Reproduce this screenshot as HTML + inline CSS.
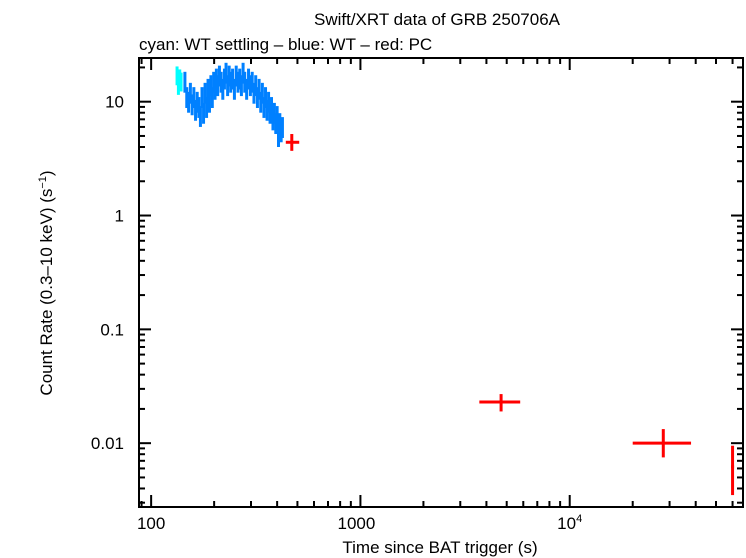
<!DOCTYPE html>
<html><head><meta charset="utf-8"><style>
body{margin:0;background:#fff}
svg{display:block;font-family:"Liberation Sans",sans-serif}
</style></head><body>
<svg id="chart" width="746" height="558" viewBox="0 0 746 558">
<text x="437" y="25" font-size="17" text-anchor="middle">Swift/XRT data of GRB 250706A</text>
<text x="139" y="50" font-size="17">cyan: WT settling – blue: WT – red: PC</text>
<text x="440" y="553" font-size="17" text-anchor="middle">Time since BAT trigger (s)</text>
<text transform="translate(52,283) rotate(-90)" font-size="17" text-anchor="middle">Count Rate (0.3–10 keV) (s<tspan font-size="11" dy="-6">−1</tspan><tspan dy="6">)</tspan></text>
<g id="marks"></g>
<g id="axes"></g>
</svg>
<script>
const xTickVals=[100,1000,10000];
const xTickLabels=["100","1000","10^4"];
const yTickVals=[10,1,0.1,0.01];
const yTickLabels=["10","1","0.1","0.01"];
const cyanT=[133,135,137,139];
const cyanR=[17,14,16,15];
const blueT=[145,148,151,154,157,160,163,166,169,172,175,178,181,184,187,190,193,196,199,202,205,208,212,216,220,224,228,232,236,240,245,250,255,260,265,270,275,280,286,292,298,304,310,316,322,328,334,340,346,352,358,364,370,376,382,388,394,400,406,412,418,424];
const blueR=[15,11,10,12,9.5,11,8.5,10,9,7.5,11,8,12,9,13,10,14,11,15,13,16,14,17,15,13,16,18,14,17,15,16,13,17,15,16,14,18,15,13,16,14,15,12,14,11,13,10,12,9,11,8.5,10,8,9,7,8,6.5,7.5,5,6.5,5.5,6];
const redT=[470,4700,28000,60000];
const redLo=[440,3700,20000,59000];
const redHi=[510,5800,38000,61000];
const redR=[4.4,0.023,0.010,0.0062];
const redRLo=[3.7,0.019,0.0075,0.0035];
const redRHi=[5.2,0.027,0.0133,0.0095];

const L=139,R=743,T=58,B=507;
const xMin=Math.log10(87.5),xMax=Math.log10(67300);
const yMin=Math.log10(0.00275),yMax=Math.log10(24.2);
const X=v=>L+(Math.log10(v)-xMin)/(xMax-xMin)*(R-L);
const Y=v=>B-(Math.log10(v)-yMin)/(yMax-yMin)*(B-T);
const NS="http://www.w3.org/2000/svg";
const marks=document.getElementById('marks'),axes=document.getElementById('axes');
function line(p,x1,y1,x2,y2,c,w){const l=document.createElementNS(NS,'line');l.setAttribute('x1',x1);l.setAttribute('y1',y1);l.setAttribute('x2',x2);l.setAttribute('y2',y2);l.setAttribute('stroke',c);l.setAttribute('stroke-width',w);p.appendChild(l);return l;}
function pt(t,r,lo,hi,rlo,rhi,c,w,name){
  const g=document.createElementNS(NS,'g');
  
  
  line(g,X(t),Y(rlo),X(t),Y(rhi),c,w);
  line(g,X(lo),Y(r),X(hi),Y(r),c,w);
  marks.appendChild(g);
}
cyanT.forEach((t,i)=>pt(t,cyanR[i],t*0.993,t*1.007,cyanR[i]*0.82,cyanR[i]*1.2,'#00ffff',3,'cyan-point'));
blueT.forEach((t,i)=>pt(t,blueR[i],t*0.99,t*1.01,blueR[i]*0.8,blueR[i]*1.22,'#0080ff',3,'blue-point'));
redT.forEach((t,i)=>pt(t,redR[i],redLo[i],redHi[i],redRLo[i],redRHi[i],'#ff0000',3,'red-point'));
// frame
const f=document.createElementNS(NS,'rect');f.setAttribute('x',L);f.setAttribute('y',T);f.setAttribute('width',R-L);f.setAttribute('height',B-T);f.setAttribute('fill','none');f.setAttribute('stroke','#000');f.setAttribute('stroke-width',2);


axes.appendChild(f);
for(let d=1;d<=5;d++)for(let m=1;m<10;m++){const v=m*Math.pow(10,d);if(v<87.5||v>67300)continue;const len=m==1?12:6;
  line(axes,X(v),B,X(v),B-len,'#000',2);line(axes,X(v),T,X(v),T+len,'#000',2);}
for(let d=-3;d<=1;d++)for(let m=1;m<10;m++){const v=m*Math.pow(10,d);if(v<0.00275||v>24.2)continue;const len=m==1?12:6;
  line(axes,L,Y(v),L+len,Y(v),'#000',2);line(axes,R,Y(v),R-len,Y(v),'#000',2);}
xTickVals.forEach((v,i)=>{const t=document.createElementNS(NS,'text');t.setAttribute('x',X(v)-(i==1?4:0));t.setAttribute('y',529);t.setAttribute('font-size',17);t.setAttribute('text-anchor','middle');
  
  
  const s=xTickLabels[i];if(s.indexOf('^')>0){const p=s.split('^');t.textContent=p[0];const sp=document.createElementNS(NS,'tspan');sp.setAttribute('font-size',11);sp.setAttribute('dy',-7);sp.textContent=p[1];t.appendChild(sp);}else t.textContent=s;axes.appendChild(t);});
yTickVals.forEach((v,i)=>{const t=document.createElementNS(NS,'text');t.setAttribute('x',124);t.setAttribute('y',Y(v)+6);t.setAttribute('font-size',17);t.setAttribute('text-anchor','end');
  
  
  t.textContent=yTickLabels[i];axes.appendChild(t);});
</script>
</body></html>
